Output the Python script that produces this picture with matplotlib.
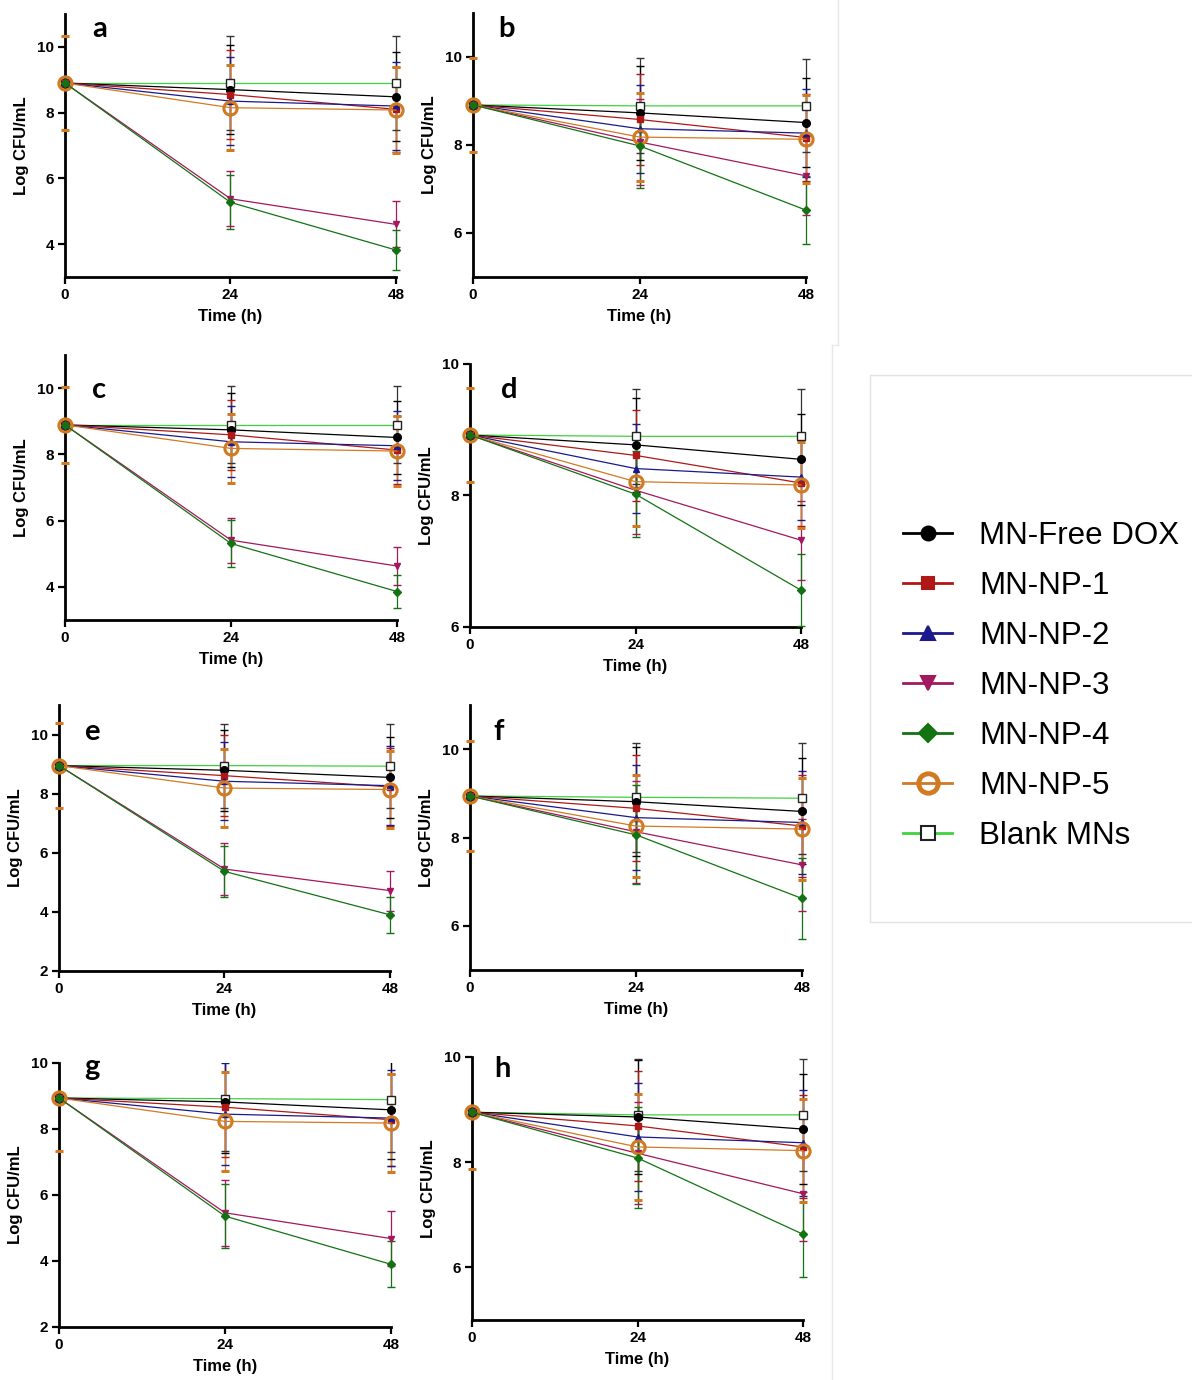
import numpy as np
import matplotlib
matplotlib.use("Agg")
import matplotlib.pyplot as plt
from matplotlib.lines import Line2D
from matplotlib.patches import Rectangle

plt.rcParams['font.family'] = ['Liberation Sans', 'DejaVu Sans']

times = [0, 24, 48]
groups = ['MN-Free DOX', 'MN-NP-1', 'MN-NP-2', 'MN-NP-3', 'MN-NP-4', 'MN-NP-5', 'Blank MNs']

# mean Log CFU/mL per group (rows) at 0, 24, 48 h
mean_a = [[8.90, 8.70, 8.48], [8.90, 8.55, 8.10], [8.90, 8.35, 8.20], [8.90, 5.38, 4.60],
          [8.90, 5.27, 3.82], [8.90, 8.15, 8.08], [8.90, 8.90, 8.90]]
sd_a = [[0, 1.35, 1.35], [0, 1.35, 1.30], [0, 1.33, 1.33], [0, 0.83, 0.70],
        [0, 0.82, 0.62], [1.44, 1.30, 1.30], [0, 1.43, 1.43]]

mean_b = [[8.91, 8.73, 8.51], [8.91, 8.58, 8.17], [8.91, 8.37, 8.27], [8.91, 8.07, 7.30],
          [8.91, 7.98, 6.52], [8.91, 8.18, 8.13], [8.91, 8.89, 8.89]]
sd_b = [[0, 1.07, 1.02], [0, 1.03, 0.98], [0, 1.00, 1.00], [0, 0.97, 0.90],
        [0, 0.95, 0.78], [1.07, 1.00, 1.00], [0, 1.08, 1.06]]

mean_c = [[8.89, 8.74, 8.51], [8.89, 8.59, 8.13], [8.89, 8.38, 8.26], [8.89, 5.41, 4.63],
          [8.89, 5.31, 3.86], [8.89, 8.18, 8.10], [8.89, 8.89, 8.89]]
sd_c = [[0, 1.11, 1.09], [0, 1.06, 1.02], [0, 1.07, 1.04], [0, 0.68, 0.57],
        [0, 0.70, 0.51], [1.15, 1.05, 1.05], [0, 1.16, 1.16]]

mean_d = [[8.92, 8.77, 8.55], [8.92, 8.61, 8.19], [8.92, 8.41, 8.28], [8.92, 8.08, 7.32],
          [8.92, 8.02, 6.56], [8.92, 8.21, 8.16], [8.92, 8.90, 8.90]]
sd_d = [[0, 0.71, 0.69], [0, 0.69, 0.65], [0, 0.68, 0.65], [0, 0.67, 0.60],
        [0, 0.65, 0.55], [0.72, 0.67, 0.65], [0, 0.72, 0.72]]

mean_e = [[8.95, 8.79, 8.55], [8.95, 8.61, 8.23], [8.95, 8.42, 8.27], [8.95, 5.45, 4.72],
          [8.95, 5.37, 3.90], [8.95, 8.19, 8.14], [8.95, 8.95, 8.93]]
sd_e = [[0, 1.38, 1.36], [0, 1.36, 1.32], [0, 1.32, 1.33], [0, 0.88, 0.68],
        [0, 0.86, 0.60], [1.43, 1.32, 1.30], [0, 1.42, 1.42]]

mean_f = [[8.94, 8.81, 8.59], [8.94, 8.66, 8.26], [8.94, 8.45, 8.34], [8.94, 8.13, 7.38],
          [8.94, 8.06, 6.62], [8.94, 8.26, 8.19], [8.94, 8.91, 8.89]]
sd_f = [[0, 1.23, 1.20], [0, 1.20, 1.15], [0, 1.19, 1.17], [0, 1.15, 1.04],
        [0, 1.12, 0.92], [1.25, 1.15, 1.15], [0, 1.24, 1.26]]

mean_g = [[8.94, 8.82, 8.58], [8.94, 8.66, 8.28], [8.94, 8.45, 8.33], [8.94, 5.46, 4.68],
          [8.94, 5.36, 3.90], [8.94, 8.23, 8.18], [8.94, 8.92, 8.89]]
sd_g = [[0, 1.55, 1.50], [0, 1.50, 1.40], [0, 1.55, 1.45], [0, 1.00, 0.84],
        [0, 0.97, 0.70], [1.62, 1.50, 1.48], [0, 1.60, 1.60]]

mean_h = [[8.95, 8.86, 8.63], [8.95, 8.69, 8.29], [8.95, 8.48, 8.37], [8.95, 8.17, 7.40],
          [8.95, 8.08, 6.63], [8.95, 8.29, 8.22], [8.95, 8.90, 8.90]]
sd_h = [[0, 1.08, 1.04], [0, 1.04, 0.98], [0, 1.03, 1.01], [0, 0.97, 0.90],
        [0, 0.96, 0.81], [1.08, 1.00, 0.98], [0, 1.07, 1.07]]

# series styles
colors = ['#000000', '#b01818', '#1a1a8c', '#a3185e', '#137313', '#d17a22', '#3fd23f']
bar_colors = ['#000000', '#b01818', '#1a1a8c', '#a3185e', '#137313', '#d17a22', '#333333']
markers = ['o', 's', '^', 'v', 'D', 'o', 's']
msizes = [5.5, 4.5, 5, 5, 4.5, 9.5, 6]
draw_order = [6, 0, 1, 2, 3, 5, 4]

W, H = 1192, 1380
fig = plt.figure(figsize=(W / 100, H / 100), dpi=100)
fig.patch.set_facecolor('white')

# faint borders between the pasted panels
fig.add_artist(Line2D([838 / W, 838 / W], [1, 1 - 345 / H], color='#e8e8e8', lw=1))
fig.add_artist(Line2D([832 / W, 838 / W], [1 - 345 / H, 1 - 345 / H], color='#e8e8e8', lw=1))
fig.add_artist(Line2D([832 / W, 832 / W], [1 - 345 / H, 0], color='#e8e8e8', lw=1))

# panel: letter, data, sd, axes box (px: left, right, top, bottom), ylim, yticks, letter baseline (px)
panels = [
    ('a', mean_a, sd_a, (65, 396, 14, 277), (3, 11), [4, 6, 8, 10], (100, 37)),
    ('b', mean_b, sd_b, (473, 806, 13, 277), (5, 11), [6, 8, 10], (507, 37)),
    ('c', mean_c, sd_c, (65, 397, 355, 620), (3, 11), [4, 6, 8, 10], (99, 398)),
    ('d', mean_d, sd_d, (470, 801, 364, 627), (6, 10), [6, 8, 10], (509, 398)),
    ('e', mean_e, sd_e, (59, 390, 705, 971), (2, 11), [2, 4, 6, 8, 10], (92, 740)),
    ('f', mean_f, sd_f, (470, 802, 705, 970), (5, 11), [6, 8, 10], (499, 740)),
    ('g', mean_g, sd_g, (59, 391, 1063, 1327), (2, 10), [2, 4, 6, 8, 10], (92, 1075)),
    ('h', mean_h, sd_h, (472, 803, 1057, 1320), (5, 10), [6, 8, 10], (502, 1077)),
]

for letter, means, sds, box, ylim, yticks, lpos in panels:
    x0, x1, yt, yb = box
    ax = fig.add_axes([x0 / W, 1 - yb / H, (x1 - x0) / W, (yb - yt) / H])
    clip = Rectangle((-0.06, 0), 1.12, 1, transform=ax.transAxes)
    for i in draw_order:
        cont = ax.errorbar(times, means[i], yerr=sds[i], color=colors[i], ecolor=bar_colors[i],
                           lw=0.9, elinewidth=0.9, capsize=3, capthick=0.9,
                           marker=markers[i], ms=msizes[i],
                           mfc='none' if i == 5 else ('white' if i == 6 else colors[i]),
                           mec='#222222' if i == 6 else colors[i],
                           mew=2.2 if i == 5 else 1.0, clip_on=False, zorder=3)
        for art in list(cont[1]) + list(cont[2]):
            art.set_clip_on(True)
            art.set_clip_path(clip)
        # vertical bars sit under the axis line, caps above it
        for art in cont[2]:
            art.set_zorder(1.5)
    ax.set_xlim(0, 48)
    ax.set_ylim(*ylim)
    ax.set_xticks(times)
    ax.set_yticks(yticks)
    for s in ['top', 'right']:
        ax.spines[s].set_visible(False)
    for s in ['left', 'bottom']:
        ax.spines[s].set_linewidth(2)
        ax.spines[s].set_zorder(2)
    ax.tick_params(direction='out', length=5, width=1.6, labelsize=11, pad=3)
    for lbl in ax.get_xticklabels() + ax.get_yticklabels():
        lbl.set_fontweight('bold')
    ax.set_xlabel('Time (h)', fontsize=12, fontweight='bold', labelpad=5)
    ax.set_ylabel('Log CFU/mL', fontsize=12, fontweight='bold', labelpad=6)
    fig.text(lpos[0] / W, 1 - lpos[1] / H, letter, fontsize=21, fontweight='bold',
             family=['Lato', 'DejaVu Sans'], ha='center', va='baseline')

# legend box on the right
fig.add_artist(Rectangle((870 / W, 1 - 922 / H), 330 / W, 547 / H, transform=fig.transFigure,
                         facecolor='white', edgecolor='#e2e2e2', lw=1, zorder=0))
leg_ms = [10, 8, 10, 10, 9, 14, 10]
handles = []
for i in range(7):
    handles.append(Line2D([], [], color=colors[i], lw=2, marker=markers[i], ms=leg_ms[i],
                          mfc='none' if i == 5 else ('white' if i == 6 else colors[i]),
                          mec='#222222' if i == 6 else colors[i],
                          mew=3.5 if i == 5 else 1.5))
fig.legend(handles, groups, loc='center left', bbox_to_anchor=(903 / W, 1 - 686 / H),
           frameon=False, fontsize=22.5, handlelength=1.57, handletextpad=0.86,
           labelspacing=0.64, borderpad=0, borderaxespad=0)

fig.savefig('out.png', dpi=100, facecolor='white')
